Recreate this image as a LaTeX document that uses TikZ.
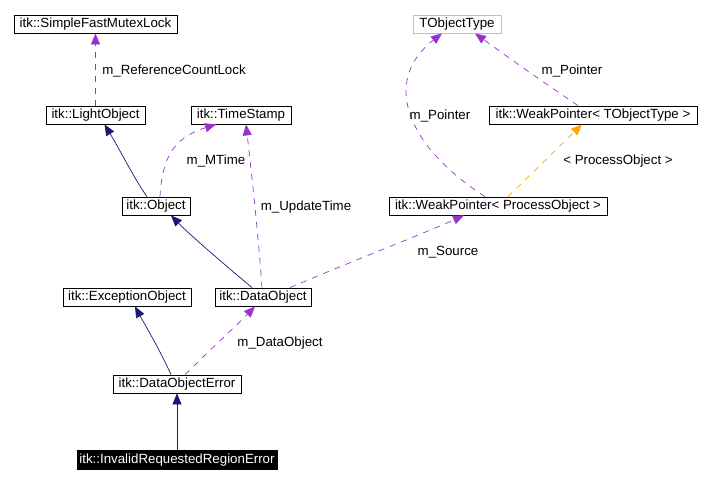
\documentclass[tikz,border=0pt]{standalone}
\usepackage{fontspec}
\setmainfont{Liberation Sans}
\usetikzlibrary{arrows.meta}
\definecolor{navy}{RGB}{25,25,112}
\definecolor{dpurple}{RGB}{153,50,204}
\definecolor{dorange}{RGB}{255,165,0}
\definecolor{lgray}{RGB}{191,191,191}
\tikzset{
  box/.style={draw=black, line width=0.8pt, inner sep=0pt, minimum height=18pt, text height=9.5pt, text depth=2.5pt, font=\fontsize{13.3}{15}\selectfont},
  graybox/.style={box, draw=lgray},
  mainbox/.style={box, fill=black, text=white},
  lbl/.style={font=\fontsize{13.3}{15}\selectfont, inner sep=0pt},
  inherit/.style={draw=navy, line width=0.7pt, -{Triangle[length=11pt,width=9pt]}},
  usage/.style={draw=dpurple, line width=0.7pt, dash pattern=on 6pt off 6pt, -{Triangle[length=11pt,width=9pt]}},
  tmpl/.style={draw=dorange, line width=0.7pt, dash pattern=on 6pt off 6pt, -{Triangle[length=11pt,width=9pt]}},
}
\begin{document}
\begin{tikzpicture}[x=1pt,y=-1pt]
\useasboundingbox (0,0) rectangle (710,483);
\node[box, minimum width=163pt] (mutex) at (95.5,24) {itk::SimpleFastMutexLock};
\node[box, minimum width=99pt] (light) at (95.5,115) {itk::LightObject};
\node[box, minimum width=100pt] (ts) at (241,115) {itk::TimeStamp};
\node[box, minimum width=68pt] (obj) at (156,206) {itk::Object};
\node[graybox, minimum width=88pt] (tot) at (457,24) {TObjectType};
\node[box, minimum width=208pt] (wpt) at (593,115) {itk::WeakPointer< TObjectType >};
\node[box, minimum width=218pt] (wpp) at (498,206) {itk::WeakPointer< ProcessObject >};
\node[box, minimum width=128pt] (exc) at (127,297) {itk::ExceptionObject};
\node[box, minimum width=96pt] (dobj) at (263,297) {itk::DataObject};
\node[box, minimum width=128pt] (doe) at (177,384) {itk::DataObjectError};
\node[mainbox, minimum width=200pt, minimum height=19pt] (irr) at (177,459.5) {itk::InvalidRequestedRegionError};

% edges
\draw[usage] (light.north) -- (mutex.south);
\node[lbl] (l1) at (174,71) {m\_ReferenceCountLock};

\draw[inherit] ([xshift=-9pt]obj.north) .. controls (135,180) and (120,150) .. ([xshift=9pt]light.south);

\draw[usage] ([xshift=4pt]obj.north) .. controls (162,160) and (172,138) .. ([xshift=-25pt]ts.south);
\node[lbl] (l2) at (216,161) {m\_MTime};

\draw[usage] ([xshift=-1pt]dobj.north) .. controls (258,230) and (250,160) .. ([xshift=5pt]ts.south);
\node[lbl] (l3) at (306,207) {m\_UpdateTime};

\draw[inherit] ([xshift=-11pt]dobj.north) .. controls (225,265) and (190,235) .. ([xshift=15pt]obj.south);

\draw[usage] ([xshift=27pt]dobj.north) .. controls (350,262) and (420,235) .. ([xshift=-34pt]wpp.south);
\node[lbl] (l4) at (448,252) {m\_Source};

\draw[usage] ([xshift=-13pt]wpp.north) .. controls (405,145) and (382,80) .. ([xshift=-15pt]tot.south);
\node[lbl] (l5) at (440,116) {m\_Pointer};

\draw[usage] ([xshift=-15pt]wpt.north) .. controls (540,80) and (505,55) .. ([xshift=18pt]tot.south);
\node[lbl] (l6) at (572,71) {m\_Pointer};

\draw[tmpl] ([xshift=10pt]wpp.north) -- ([xshift=-11pt]wpt.south);
\node[lbl] (l7) at (618,161) {< ProcessObject >};

\draw[inherit] ([xshift=-6pt]doe.north) .. controls (160,350) and (145,325) .. ([xshift=8pt]exc.south);

\draw[usage] ([xshift=8pt]doe.north) .. controls (210,350) and (240,322) .. ([xshift=-8pt]dobj.south);
\node[lbl] (l8) at (280,343) {m\_DataObject};

\draw[inherit] (irr.north) -- (doe.south);
\end{tikzpicture}
\end{document}
